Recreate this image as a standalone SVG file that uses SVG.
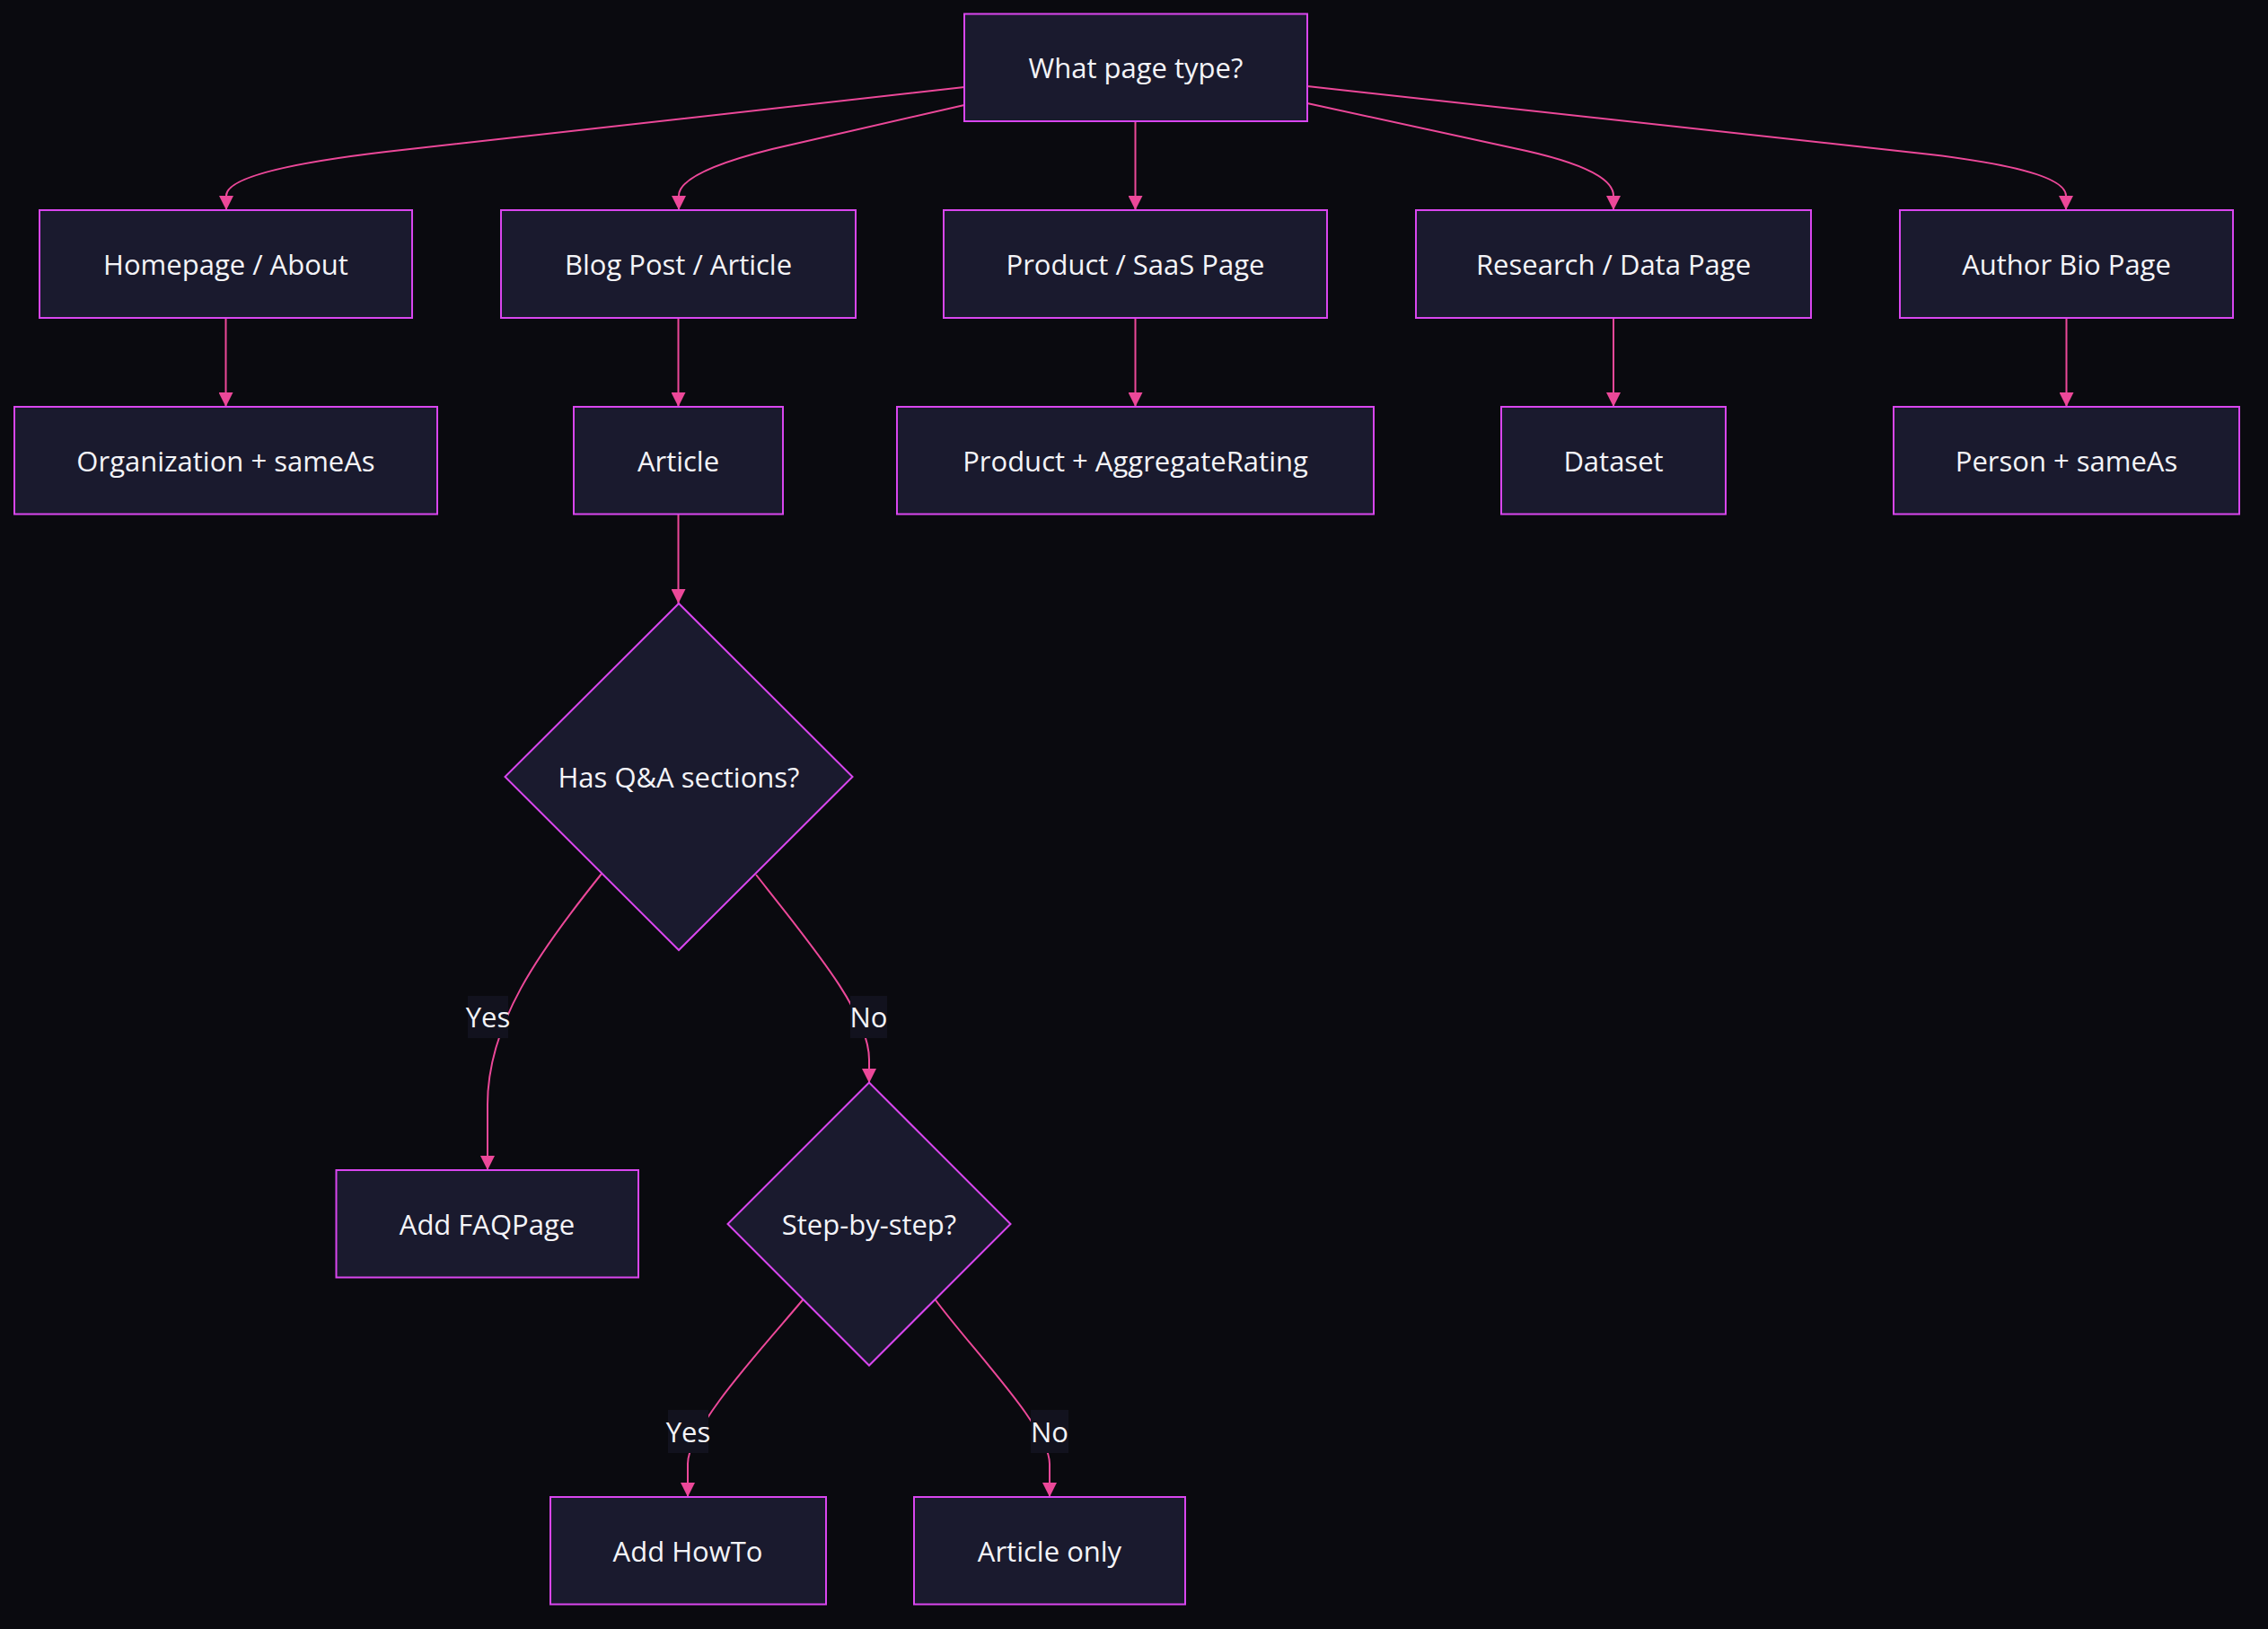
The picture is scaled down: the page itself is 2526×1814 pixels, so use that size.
<svg xmlns="http://www.w3.org/2000/svg" width="2526" height="1814" viewBox="0 0 2526 1814">
<style>
.node rect,.node polygon{fill:#1a1a2e;stroke:#d946ef;stroke-width:2}
.node text,.elabel text{font-family:"Open Sans","Noto Sans","Liberation Sans",sans-serif;font-size:31px;fill:#f4f4f8;text-anchor:middle}
.edge{fill:none;stroke:#ec4899;stroke-width:2}
.elabel rect{fill:#12121e}
</style>
<defs>
<marker id="arr" viewBox="0 0 16 16" refX="16" refY="8" markerWidth="16" markerHeight="16" markerUnits="userSpaceOnUse" orient="auto">
<path d="M0,0 L16,8 L0,16 z" fill="#ec4899"/>
</marker>
</defs>
<rect x="0" y="0" width="2526" height="1814" fill="#0a0a0f"/>
<g id="connectors">
<path class="edge" marker-end="url(#arr)" d="M1074,97 L430,169 Q252,190 252,218 L252,234"/>
<path class="edge" marker-end="url(#arr)" d="M1074,117 L860,166 Q756,192 756,218 L756,234"/>
<path class="edge" marker-end="url(#arr)" d="M1264.5,135 L1264.5,234"/>
<path class="edge" marker-end="url(#arr)" d="M1456,115 L1700,168 Q1797,190 1797,218 L1797,234"/>
<path class="edge" marker-end="url(#arr)" d="M1456,96 L2150,172 Q2301,190 2301,218 L2301,234"/>
<path class="edge" marker-end="url(#arr)" d="M251.5,354 L251.5,453"/>
<path class="edge" marker-end="url(#arr)" d="M755.5,354 L755.5,453"/>
<path class="edge" marker-end="url(#arr)" d="M1264.5,354 L1264.5,453"/>
<path class="edge" marker-end="url(#arr)" d="M1797,354 L1797,453"/>
<path class="edge" marker-end="url(#arr)" d="M2301.5,354 L2301.5,453"/>
<path class="edge" marker-end="url(#arr)" d="M755.5,572 L755.5,672"/>
<path class="edge" marker-end="url(#arr)" d="M670,973 C600,1060 543,1140 543,1230 L543,1303"/>
<path class="edge" marker-end="url(#arr)" d="M842,974 C910,1060 968,1130 968,1180 L968,1206"/>
<path class="edge" marker-end="url(#arr)" d="M894.5,1447 C850,1500 766,1590 766,1630 L766,1667"/>
<path class="edge" marker-end="url(#arr)" d="M1041.5,1447 C1080,1500 1169,1590 1169,1630 L1169,1667"/>
<g class="elabel"><rect x="521" y="1109" width="45" height="47"/><text x="543.5" y="1144">Yes</text></g>
<g class="elabel"><rect x="947" y="1109" width="41" height="47"/><text x="967.5" y="1144">No</text></g>
<g class="elabel"><rect x="744" y="1570" width="45" height="48"/><text x="766.5" y="1606">Yes</text></g>
<g class="elabel"><rect x="1148" y="1570" width="42" height="48"/><text x="1169" y="1606">No</text></g>
</g>
<g id="n-start" class="node"><rect x="1074" y="15.5" width="382" height="119.5"/><text x="1265" y="87">What page type?</text></g>
<g id="n-home" class="node"><rect x="44" y="234" width="415" height="120"/><text x="251.5" y="306">Homepage / About</text></g>
<g id="n-blog" class="node"><rect x="558" y="234" width="395" height="120"/><text x="755.5" y="306">Blog Post / Article</text></g>
<g id="n-product" class="node"><rect x="1051" y="234" width="427" height="120"/><text x="1264.5" y="306">Product / SaaS Page</text></g>
<g id="n-research" class="node"><rect x="1577" y="234" width="440" height="120"/><text x="1797" y="306">Research / Data Page</text></g>
<g id="n-author" class="node"><rect x="2116" y="234" width="371" height="120"/><text x="2301.5" y="306">Author Bio Page</text></g>
<g id="n-org" class="node"><rect x="16" y="453" width="471" height="119.5"/><text x="251.5" y="525">Organization + sameAs</text></g>
<g id="n-article" class="node"><rect x="639" y="453" width="233" height="119.5"/><text x="755.5" y="525">Article</text></g>
<g id="n-prodagg" class="node"><rect x="999" y="453" width="531" height="119.5"/><text x="1264.5" y="525">Product + AggregateRating</text></g>
<g id="n-dataset" class="node"><rect x="1672" y="453" width="250" height="119.5"/><text x="1797" y="525">Dataset</text></g>
<g id="n-person" class="node"><rect x="2109" y="453" width="385" height="119.5"/><text x="2301.5" y="525">Person + sameAs</text></g>
<g id="n-qa" class="node"><polygon points="756,672 949.5,865 756,1058 562.5,865"/><text x="756" y="877">Has Q&amp;A sections?</text></g>
<g id="n-faq" class="node"><rect x="374.5" y="1303" width="336.5" height="119.5"/><text x="542.5" y="1375">Add FAQPage</text></g>
<g id="n-step" class="node"><polygon points="968,1205.5 1125.5,1363 968,1520.5 810.5,1363"/><text x="968" y="1375">Step-by-step?</text></g>
<g id="n-howto" class="node"><rect x="613" y="1667" width="307" height="119.5"/><text x="766" y="1739">Add HowTo</text></g>
<g id="n-only" class="node"><rect x="1018" y="1667" width="302" height="119.5"/><text x="1169" y="1739">Article only</text></g>
</svg>
